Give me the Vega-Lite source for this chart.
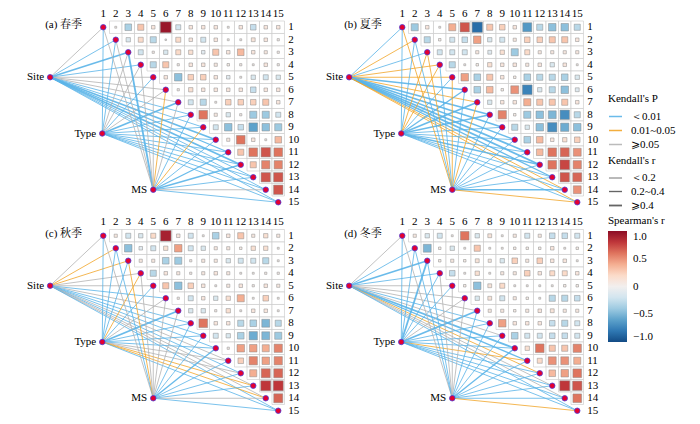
{
"$schema":"https://vega.github.io/schema/vega-lite/v6.json",
"padding":{"left":22,"top":6,"right":0,"bottom":0},
"config":{"view":{"stroke":null},"font":"Liberation Serif, Times New Roman, serif",
"legend":{"titleFont":"Liberation Serif, Times New Roman, serif","labelFont":"Liberation Serif, Times New Roman, serif","titleFontSize":11,"labelFontSize":11,"titleFontWeight":"normal","titleColor":"#000","labelColor":"#000"}},
"data":{"values":[
{"s":"a","i":1,"j":2,"r":0.03},{"s":"a","i":1,"j":3,"r":-0.35},{"s":"a","i":1,"j":4,"r":0.3},{"s":"a","i":1,"j":5,"r":0.1},{"s":"a","i":1,"j":6,"r":0.95},{"s":"a","i":1,"j":7,"r":-0.2},{"s":"a","i":1,"j":8,"r":0.1},{"s":"a","i":1,"j":9,"r":0.1},{"s":"a","i":1,"j":10,"r":0.1},{"s":"a","i":1,"j":11,"r":0.03},{"s":"a","i":1,"j":12,"r":0.1},{"s":"a","i":1,"j":13,"r":-0.25},{"s":"a","i":1,"j":14,"r":0.1},{"s":"a","i":1,"j":15,"r":0.1},
{"s":"a","i":2,"j":3,"r":-0.15},{"s":"a","i":2,"j":4,"r":0.2},{"s":"a","i":2,"j":5,"r":-0.3},{"s":"a","i":2,"j":6,"r":0.02},{"s":"a","i":2,"j":7,"r":0.2},{"s":"a","i":2,"j":8,"r":0.1},{"s":"a","i":2,"j":9,"r":-0.2},{"s":"a","i":2,"j":10,"r":0.1},{"s":"a","i":2,"j":11,"r":0.03},{"s":"a","i":2,"j":12,"r":0.03},{"s":"a","i":2,"j":13,"r":0.12},{"s":"a","i":2,"j":14,"r":0.1},{"s":"a","i":2,"j":15,"r":0.04},
{"s":"a","i":3,"j":4,"r":-0.2},{"s":"a","i":3,"j":5,"r":0.04},{"s":"a","i":3,"j":6,"r":-0.15},{"s":"a","i":3,"j":7,"r":0.2},{"s":"a","i":3,"j":8,"r":0.15},{"s":"a","i":3,"j":9,"r":-0.1},{"s":"a","i":3,"j":10,"r":0.3},{"s":"a","i":3,"j":11,"r":0.1},{"s":"a","i":3,"j":12,"r":0.35},{"s":"a","i":3,"j":13,"r":0.1},{"s":"a","i":3,"j":14,"r":0.08},{"s":"a","i":3,"j":15,"r":0.04},
{"s":"a","i":4,"j":5,"r":-0.3},{"s":"a","i":4,"j":6,"r":0.3},{"s":"a","i":4,"j":7,"r":0.04},{"s":"a","i":4,"j":8,"r":0.1},{"s":"a","i":4,"j":9,"r":0.1},{"s":"a","i":4,"j":10,"r":0.08},{"s":"a","i":4,"j":11,"r":0.05},{"s":"a","i":4,"j":12,"r":0.04},{"s":"a","i":4,"j":13,"r":0.03},{"s":"a","i":4,"j":14,"r":0.1},{"s":"a","i":4,"j":15,"r":0.04},
{"s":"a","i":5,"j":6,"r":0.1},{"s":"a","i":5,"j":7,"r":-0.45},{"s":"a","i":5,"j":8,"r":0.25},{"s":"a","i":5,"j":9,"r":0.25},{"s":"a","i":5,"j":10,"r":0.1},{"s":"a","i":5,"j":11,"r":-0.1},{"s":"a","i":5,"j":12,"r":0.03},{"s":"a","i":5,"j":13,"r":-0.15},{"s":"a","i":5,"j":14,"r":-0.2},{"s":"a","i":5,"j":15,"r":-0.15},
{"s":"a","i":6,"j":7,"r":0.04},{"s":"a","i":6,"j":8,"r":0.15},{"s":"a","i":6,"j":9,"r":0.1},{"s":"a","i":6,"j":10,"r":0.1},{"s":"a","i":6,"j":11,"r":0.1},{"s":"a","i":6,"j":12,"r":0.1},{"s":"a","i":6,"j":13,"r":-0.25},{"s":"a","i":6,"j":14,"r":0.1},{"s":"a","i":6,"j":15,"r":0.1},
{"s":"a","i":7,"j":8,"r":-0.2},{"s":"a","i":7,"j":9,"r":-0.3},{"s":"a","i":7,"j":10,"r":0.03},{"s":"a","i":7,"j":11,"r":0.25},{"s":"a","i":7,"j":12,"r":0.25},{"s":"a","i":7,"j":13,"r":0.25},{"s":"a","i":7,"j":14,"r":0.3},{"s":"a","i":7,"j":15,"r":0.1},
{"s":"a","i":8,"j":9,"r":0.6},{"s":"a","i":8,"j":10,"r":0.08},{"s":"a","i":8,"j":11,"r":-0.15},{"s":"a","i":8,"j":12,"r":0.04},{"s":"a","i":8,"j":13,"r":-0.4},{"s":"a","i":8,"j":14,"r":-0.4},{"s":"a","i":8,"j":15,"r":-0.2},
{"s":"a","i":9,"j":10,"r":-0.2},{"s":"a","i":9,"j":11,"r":-0.45},{"s":"a","i":9,"j":12,"r":-0.25},{"s":"a","i":9,"j":13,"r":-0.6},{"s":"a","i":9,"j":14,"r":-0.45},{"s":"a","i":9,"j":15,"r":-0.4},
{"s":"a","i":10,"j":11,"r":0.08},{"s":"a","i":10,"j":12,"r":0.6},{"s":"a","i":10,"j":13,"r":0.1},{"s":"a","i":10,"j":14,"r":0.03},{"s":"a","i":10,"j":15,"r":0.35},
{"s":"a","i":11,"j":12,"r":0.3},{"s":"a","i":11,"j":13,"r":0.6},{"s":"a","i":11,"j":14,"r":0.7},{"s":"a","i":11,"j":15,"r":0.6},
{"s":"a","i":12,"j":13,"r":0.3},{"s":"a","i":12,"j":14,"r":0.55},{"s":"a","i":12,"j":15,"r":0.55},
{"s":"a","i":13,"j":14,"r":0.7},{"s":"a","i":13,"j":15,"r":0.7},{"s":"a","i":14,"j":15,"r":0.7},
{"s":"b","i":1,"j":2,"r":-0.4},{"s":"b","i":1,"j":3,"r":0.1},{"s":"b","i":1,"j":4,"r":0.03},{"s":"b","i":1,"j":5,"r":0.4},{"s":"b","i":1,"j":6,"r":0.7},{"s":"b","i":1,"j":7,"r":-0.85},{"s":"b","i":1,"j":8,"r":0.3},{"s":"b","i":1,"j":9,"r":0.25},{"s":"b","i":1,"j":10,"r":0.1},{"s":"b","i":1,"j":11,"r":-0.65},{"s":"b","i":1,"j":12,"r":-0.3},{"s":"b","i":1,"j":13,"r":-0.45},{"s":"b","i":1,"j":14,"r":-0.45},{"s":"b","i":1,"j":15,"r":-0.3},
{"s":"b","i":2,"j":3,"r":-0.3},{"s":"b","i":2,"j":4,"r":0.05},{"s":"b","i":2,"j":5,"r":-0.2},{"s":"b","i":2,"j":6,"r":-0.25},{"s":"b","i":2,"j":7,"r":0.45},{"s":"b","i":2,"j":8,"r":-0.15},{"s":"b","i":2,"j":9,"r":-0.2},{"s":"b","i":2,"j":10,"r":0.08},{"s":"b","i":2,"j":11,"r":0.25},{"s":"b","i":2,"j":12,"r":0.25},{"s":"b","i":2,"j":13,"r":0.3},{"s":"b","i":2,"j":14,"r":0.3},{"s":"b","i":2,"j":15,"r":0.1},
{"s":"b","i":3,"j":4,"r":-0.2},{"s":"b","i":3,"j":5,"r":-0.2},{"s":"b","i":3,"j":6,"r":-0.2},{"s":"b","i":3,"j":7,"r":0.08},{"s":"b","i":3,"j":8,"r":-0.12},{"s":"b","i":3,"j":9,"r":0.15},{"s":"b","i":3,"j":10,"r":-0.4},{"s":"b","i":3,"j":11,"r":0.2},{"s":"b","i":3,"j":12,"r":0.08},{"s":"b","i":3,"j":13,"r":0.08},{"s":"b","i":3,"j":14,"r":0.08},{"s":"b","i":3,"j":15,"r":0.08},
{"s":"b","i":4,"j":5,"r":-0.3},{"s":"b","i":4,"j":6,"r":0.03},{"s":"b","i":4,"j":7,"r":0.05},{"s":"b","i":4,"j":8,"r":0.15},{"s":"b","i":4,"j":9,"r":0.1},{"s":"b","i":4,"j":10,"r":0.1},{"s":"b","i":4,"j":11,"r":0.08},{"s":"b","i":4,"j":12,"r":0.1},{"s":"b","i":4,"j":13,"r":-0.15},{"s":"b","i":4,"j":14,"r":0.1},{"s":"b","i":4,"j":15,"r":0.03},
{"s":"b","i":5,"j":6,"r":0.45},{"s":"b","i":5,"j":7,"r":-0.35},{"s":"b","i":5,"j":8,"r":0.3},{"s":"b","i":5,"j":9,"r":0.1},{"s":"b","i":5,"j":10,"r":0.05},{"s":"b","i":5,"j":11,"r":-0.35},{"s":"b","i":5,"j":12,"r":-0.3},{"s":"b","i":5,"j":13,"r":-0.3},{"s":"b","i":5,"j":14,"r":-0.35},{"s":"b","i":5,"j":15,"r":-0.15},
{"s":"b","i":6,"j":7,"r":-0.35},{"s":"b","i":6,"j":8,"r":0.35},{"s":"b","i":6,"j":9,"r":0.05},{"s":"b","i":6,"j":10,"r":0.5},{"s":"b","i":6,"j":11,"r":-0.75},{"s":"b","i":6,"j":12,"r":-0.15},{"s":"b","i":6,"j":13,"r":-0.3},{"s":"b","i":6,"j":14,"r":-0.45},{"s":"b","i":6,"j":15,"r":-0.12},
{"s":"b","i":7,"j":8,"r":-0.15},{"s":"b","i":7,"j":9,"r":0.1},{"s":"b","i":7,"j":10,"r":0.1},{"s":"b","i":7,"j":11,"r":0.4},{"s":"b","i":7,"j":12,"r":0.3},{"s":"b","i":7,"j":13,"r":0.3},{"s":"b","i":7,"j":14,"r":0.3},{"s":"b","i":7,"j":15,"r":0.1},
{"s":"b","i":8,"j":9,"r":0.55},{"s":"b","i":8,"j":10,"r":0.05},{"s":"b","i":8,"j":11,"r":-0.4},{"s":"b","i":8,"j":12,"r":-0.45},{"s":"b","i":8,"j":13,"r":-0.5},{"s":"b","i":8,"j":14,"r":-0.7},{"s":"b","i":8,"j":15,"r":-0.3},
{"s":"b","i":9,"j":10,"r":-0.3},{"s":"b","i":9,"j":11,"r":-0.15},{"s":"b","i":9,"j":12,"r":-0.45},{"s":"b","i":9,"j":13,"r":-0.7},{"s":"b","i":9,"j":14,"r":-0.55},{"s":"b","i":9,"j":15,"r":-0.45},
{"s":"b","i":10,"j":11,"r":-0.35},{"s":"b","i":10,"j":12,"r":0.35},{"s":"b","i":10,"j":13,"r":0.1},{"s":"b","i":10,"j":14,"r":0.15},{"s":"b","i":10,"j":15,"r":0.25},
{"s":"b","i":11,"j":12,"r":0.35},{"s":"b","i":11,"j":13,"r":0.6},{"s":"b","i":11,"j":14,"r":0.65},{"s":"b","i":11,"j":15,"r":0.5},
{"s":"b","i":12,"j":13,"r":0.6},{"s":"b","i":12,"j":14,"r":0.75},{"s":"b","i":12,"j":15,"r":0.55},
{"s":"b","i":13,"j":14,"r":0.7},{"s":"b","i":13,"j":15,"r":0.65},{"s":"b","i":14,"j":15,"r":0.5},
{"s":"c","i":1,"j":2,"r":0.08},{"s":"c","i":1,"j":3,"r":-0.2},{"s":"c","i":1,"j":4,"r":-0.15},{"s":"c","i":1,"j":5,"r":0.2},{"s":"c","i":1,"j":6,"r":0.9},{"s":"c","i":1,"j":7,"r":0.1},{"s":"c","i":1,"j":8,"r":-0.2},{"s":"c","i":1,"j":9,"r":0.03},{"s":"c","i":1,"j":10,"r":-0.35},{"s":"c","i":1,"j":11,"r":0.1},{"s":"c","i":1,"j":12,"r":0.3},{"s":"c","i":1,"j":13,"r":0.08},{"s":"c","i":1,"j":14,"r":0.15},{"s":"c","i":1,"j":15,"r":0.08},
{"s":"c","i":2,"j":3,"r":-0.45},{"s":"c","i":2,"j":4,"r":-0.1},{"s":"c","i":2,"j":5,"r":-0.2},{"s":"c","i":2,"j":6,"r":0.15},{"s":"c","i":2,"j":7,"r":0.45},{"s":"c","i":2,"j":8,"r":-0.2},{"s":"c","i":2,"j":9,"r":-0.15},{"s":"c","i":2,"j":10,"r":0.08},{"s":"c","i":2,"j":11,"r":0.08},{"s":"c","i":2,"j":12,"r":0.05},{"s":"c","i":2,"j":13,"r":0.15},{"s":"c","i":2,"j":14,"r":0.15},{"s":"c","i":2,"j":15,"r":0.03},
{"s":"c","i":3,"j":4,"r":0.08},{"s":"c","i":3,"j":5,"r":0.08},{"s":"c","i":3,"j":6,"r":-0.35},{"s":"c","i":3,"j":7,"r":-0.4},{"s":"c","i":3,"j":8,"r":0.04},{"s":"c","i":3,"j":9,"r":0.08},{"s":"c","i":3,"j":10,"r":0.08},{"s":"c","i":3,"j":11,"r":-0.15},{"s":"c","i":3,"j":12,"r":-0.2},{"s":"c","i":3,"j":13,"r":-0.2},{"s":"c","i":3,"j":14,"r":-0.3},{"s":"c","i":3,"j":15,"r":0.03},
{"s":"c","i":4,"j":5,"r":-0.3},{"s":"c","i":4,"j":6,"r":0.1},{"s":"c","i":4,"j":7,"r":0.08},{"s":"c","i":4,"j":8,"r":0.04},{"s":"c","i":4,"j":9,"r":0.08},{"s":"c","i":4,"j":10,"r":0.1},{"s":"c","i":4,"j":11,"r":0.08},{"s":"c","i":4,"j":12,"r":0.03},{"s":"c","i":4,"j":13,"r":0.03},{"s":"c","i":4,"j":14,"r":0.04},{"s":"c","i":4,"j":15,"r":0.04},
{"s":"c","i":5,"j":6,"r":0.3},{"s":"c","i":5,"j":7,"r":-0.45},{"s":"c","i":5,"j":8,"r":0.25},{"s":"c","i":5,"j":9,"r":0.1},{"s":"c","i":5,"j":10,"r":0.03},{"s":"c","i":5,"j":11,"r":0.08},{"s":"c","i":5,"j":12,"r":0.1},{"s":"c","i":5,"j":13,"r":0.04},{"s":"c","i":5,"j":14,"r":0.1},{"s":"c","i":5,"j":15,"r":0.08},
{"s":"c","i":6,"j":7,"r":0.04},{"s":"c","i":6,"j":8,"r":-0.2},{"s":"c","i":6,"j":9,"r":0.1},{"s":"c","i":6,"j":10,"r":-0.15},{"s":"c","i":6,"j":11,"r":0.15},{"s":"c","i":6,"j":12,"r":0.4},{"s":"c","i":6,"j":13,"r":0.03},{"s":"c","i":6,"j":14,"r":0.25},{"s":"c","i":6,"j":15,"r":0.03},
{"s":"c","i":7,"j":8,"r":-0.15},{"s":"c","i":7,"j":9,"r":-0.15},{"s":"c","i":7,"j":10,"r":0.04},{"s":"c","i":7,"j":11,"r":0.15},{"s":"c","i":7,"j":12,"r":0.03},{"s":"c","i":7,"j":13,"r":0.1},{"s":"c","i":7,"j":14,"r":0.1},{"s":"c","i":7,"j":15,"r":0.03},
{"s":"c","i":8,"j":9,"r":0.6},{"s":"c","i":8,"j":10,"r":0.1},{"s":"c","i":8,"j":11,"r":0.1},{"s":"c","i":8,"j":12,"r":-0.3},{"s":"c","i":8,"j":13,"r":-0.35},{"s":"c","i":8,"j":14,"r":-0.5},{"s":"c","i":8,"j":15,"r":-0.3},
{"s":"c","i":9,"j":10,"r":-0.2},{"s":"c","i":9,"j":11,"r":-0.15},{"s":"c","i":9,"j":12,"r":-0.35},{"s":"c","i":9,"j":13,"r":-0.55},{"s":"c","i":9,"j":14,"r":-0.5},{"s":"c","i":9,"j":15,"r":-0.4},
{"s":"c","i":10,"j":11,"r":0.04},{"s":"c","i":10,"j":12,"r":0.45},{"s":"c","i":10,"j":13,"r":0.45},{"s":"c","i":10,"j":14,"r":0.4},{"s":"c","i":10,"j":15,"r":0.55},
{"s":"c","i":11,"j":12,"r":0.25},{"s":"c","i":11,"j":13,"r":0.55},{"s":"c","i":11,"j":14,"r":0.45},{"s":"c","i":11,"j":15,"r":0.55},
{"s":"c","i":12,"j":13,"r":0.4},{"s":"c","i":12,"j":14,"r":0.65},{"s":"c","i":12,"j":15,"r":0.65},
{"s":"c","i":13,"j":14,"r":0.8},{"s":"c","i":13,"j":15,"r":0.8},{"s":"c","i":14,"j":15,"r":0.65},
{"s":"d","i":1,"j":2,"r":0.08},{"s":"d","i":1,"j":3,"r":-0.15},{"s":"d","i":1,"j":4,"r":-0.2},{"s":"d","i":1,"j":5,"r":0.03},{"s":"d","i":1,"j":6,"r":0.6},{"s":"d","i":1,"j":7,"r":-0.15},{"s":"d","i":1,"j":8,"r":0.12},{"s":"d","i":1,"j":9,"r":0.03},{"s":"d","i":1,"j":10,"r":0.08},{"s":"d","i":1,"j":11,"r":-0.2},{"s":"d","i":1,"j":12,"r":0.08},{"s":"d","i":1,"j":13,"r":-0.25},{"s":"d","i":1,"j":14,"r":-0.25},{"s":"d","i":1,"j":15,"r":-0.2},
{"s":"d","i":2,"j":3,"r":-0.5},{"s":"d","i":2,"j":4,"r":0.05},{"s":"d","i":2,"j":5,"r":-0.15},{"s":"d","i":2,"j":6,"r":0.03},{"s":"d","i":2,"j":7,"r":0.3},{"s":"d","i":2,"j":8,"r":0.03},{"s":"d","i":2,"j":9,"r":0.03},{"s":"d","i":2,"j":10,"r":0.05},{"s":"d","i":2,"j":11,"r":0.05},{"s":"d","i":2,"j":12,"r":0.05},{"s":"d","i":2,"j":13,"r":0.1},{"s":"d","i":2,"j":14,"r":0.03},{"s":"d","i":2,"j":15,"r":0.05},
{"s":"d","i":3,"j":4,"r":0.05},{"s":"d","i":3,"j":5,"r":0.08},{"s":"d","i":3,"j":6,"r":0.05},{"s":"d","i":3,"j":7,"r":0.12},{"s":"d","i":3,"j":8,"r":0.08},{"s":"d","i":3,"j":9,"r":-0.15},{"s":"d","i":3,"j":10,"r":0.25},{"s":"d","i":3,"j":11,"r":0.08},{"s":"d","i":3,"j":12,"r":0.25},{"s":"d","i":3,"j":13,"r":0.1},{"s":"d","i":3,"j":14,"r":0.1},{"s":"d","i":3,"j":15,"r":0.03},
{"s":"d","i":4,"j":5,"r":-0.25},{"s":"d","i":4,"j":6,"r":0.03},{"s":"d","i":4,"j":7,"r":0.15},{"s":"d","i":4,"j":8,"r":0.03},{"s":"d","i":4,"j":9,"r":0.08},{"s":"d","i":4,"j":10,"r":0.08},{"s":"d","i":4,"j":11,"r":0.25},{"s":"d","i":4,"j":12,"r":0.1},{"s":"d","i":4,"j":13,"r":0.2},{"s":"d","i":4,"j":14,"r":0.2},{"s":"d","i":4,"j":15,"r":0.1},
{"s":"d","i":5,"j":6,"r":0.05},{"s":"d","i":5,"j":7,"r":-0.45},{"s":"d","i":5,"j":8,"r":0.12},{"s":"d","i":5,"j":9,"r":0.2},{"s":"d","i":5,"j":10,"r":0.03},{"s":"d","i":5,"j":11,"r":0.03},{"s":"d","i":5,"j":12,"r":0.03},{"s":"d","i":5,"j":13,"r":0.03},{"s":"d","i":5,"j":14,"r":0.05},{"s":"d","i":5,"j":15,"r":0.05},
{"s":"d","i":6,"j":7,"r":-0.15},{"s":"d","i":6,"j":8,"r":0.12},{"s":"d","i":6,"j":9,"r":-0.2},{"s":"d","i":6,"j":10,"r":0.08},{"s":"d","i":6,"j":11,"r":0.05},{"s":"d","i":6,"j":12,"r":0.03},{"s":"d","i":6,"j":13,"r":-0.3},{"s":"d","i":6,"j":14,"r":-0.3},{"s":"d","i":6,"j":15,"r":-0.25},
{"s":"d","i":7,"j":8,"r":0.08},{"s":"d","i":7,"j":9,"r":0.08},{"s":"d","i":7,"j":10,"r":0.05},{"s":"d","i":7,"j":11,"r":0.08},{"s":"d","i":7,"j":12,"r":0.1},{"s":"d","i":7,"j":13,"r":0.12},{"s":"d","i":7,"j":14,"r":0.08},{"s":"d","i":7,"j":15,"r":0.08},
{"s":"d","i":8,"j":9,"r":0.45},{"s":"d","i":8,"j":10,"r":0.1},{"s":"d","i":8,"j":11,"r":0.1},{"s":"d","i":8,"j":12,"r":0.1},{"s":"d","i":8,"j":13,"r":-0.25},{"s":"d","i":8,"j":14,"r":-0.3},{"s":"d","i":8,"j":15,"r":-0.2},
{"s":"d","i":9,"j":10,"r":-0.35},{"s":"d","i":9,"j":11,"r":-0.2},{"s":"d","i":9,"j":12,"r":-0.2},{"s":"d","i":9,"j":13,"r":-0.25},{"s":"d","i":9,"j":14,"r":-0.25},{"s":"d","i":9,"j":15,"r":-0.2},
{"s":"d","i":10,"j":11,"r":0.15},{"s":"d","i":10,"j":12,"r":0.6},{"s":"d","i":10,"j":13,"r":0.3},{"s":"d","i":10,"j":14,"r":0.3},{"s":"d","i":10,"j":15,"r":0.55},
{"s":"d","i":11,"j":12,"r":0.2},{"s":"d","i":11,"j":13,"r":0.5},{"s":"d","i":11,"j":14,"r":0.5},{"s":"d","i":11,"j":15,"r":0.4},
{"s":"d","i":12,"j":13,"r":0.35},{"s":"d","i":12,"j":14,"r":0.45},{"s":"d","i":12,"j":15,"r":0.6},
{"s":"d","i":13,"j":14,"r":0.8},{"s":"d","i":13,"j":15,"r":0.7},{"s":"d","i":14,"j":15,"r":0.6},
{"s":"a","e":"Site","v":1,"p":3,"k":1},{"s":"a","e":"Site","v":2,"p":1,"k":1},{"s":"a","e":"Site","v":3,"p":1,"k":3},{"s":"a","e":"Site","v":4,"p":1,"k":1},{"s":"a","e":"Site","v":5,"p":3,"k":1},{"s":"a","e":"Site","v":6,"p":3,"k":1},{"s":"a","e":"Site","v":7,"p":3,"k":1},{"s":"a","e":"Site","v":8,"p":1,"k":1},{"s":"a","e":"Site","v":9,"p":1,"k":1},{"s":"a","e":"Site","v":10,"p":1,"k":3},{"s":"a","e":"Site","v":11,"p":1,"k":2},{"s":"a","e":"Site","v":12,"p":1,"k":3},{"s":"a","e":"Site","v":13,"p":1,"k":1},{"s":"a","e":"Site","v":14,"p":1,"k":1},{"s":"a","e":"Site","v":15,"p":1,"k":1},
{"s":"a","e":"Type","v":1,"p":1,"k":1},{"s":"a","e":"Type","v":2,"p":1,"k":1},{"s":"a","e":"Type","v":3,"p":3,"k":1},{"s":"a","e":"Type","v":4,"p":3,"k":1},{"s":"a","e":"Type","v":5,"p":1,"k":1},{"s":"a","e":"Type","v":6,"p":3,"k":1},{"s":"a","e":"Type","v":7,"p":1,"k":3},{"s":"a","e":"Type","v":8,"p":1,"k":1},{"s":"a","e":"Type","v":9,"p":1,"k":1},{"s":"a","e":"Type","v":10,"p":1,"k":1},{"s":"a","e":"Type","v":11,"p":1,"k":1},{"s":"a","e":"Type","v":12,"p":1,"k":1},{"s":"a","e":"Type","v":13,"p":1,"k":1},{"s":"a","e":"Type","v":14,"p":1,"k":1},{"s":"a","e":"Type","v":15,"p":1,"k":1},
{"s":"a","e":"MS","v":1,"p":3,"k":1},{"s":"a","e":"MS","v":2,"p":3,"k":1},{"s":"a","e":"MS","v":3,"p":1,"k":3},{"s":"a","e":"MS","v":4,"p":3,"k":1},{"s":"a","e":"MS","v":5,"p":3,"k":1},{"s":"a","e":"MS","v":6,"p":2,"k":1},{"s":"a","e":"MS","v":7,"p":3,"k":1},{"s":"a","e":"MS","v":8,"p":1,"k":1},{"s":"a","e":"MS","v":9,"p":2,"k":1},{"s":"a","e":"MS","v":10,"p":1,"k":1},{"s":"a","e":"MS","v":11,"p":1,"k":2},{"s":"a","e":"MS","v":12,"p":1,"k":2},{"s":"a","e":"MS","v":13,"p":1,"k":1},{"s":"a","e":"MS","v":14,"p":3,"k":1},{"s":"a","e":"MS","v":15,"p":1,"k":1},
{"s":"b","e":"Site","v":1,"p":1,"k":1},{"s":"b","e":"Site","v":2,"p":2,"k":1},{"s":"b","e":"Site","v":3,"p":1,"k":1},{"s":"b","e":"Site","v":4,"p":2,"k":1},{"s":"b","e":"Site","v":5,"p":2,"k":1},{"s":"b","e":"Site","v":6,"p":1,"k":2},{"s":"b","e":"Site","v":7,"p":2,"k":1},{"s":"b","e":"Site","v":8,"p":1,"k":3},{"s":"b","e":"Site","v":9,"p":1,"k":3},{"s":"b","e":"Site","v":10,"p":1,"k":2},{"s":"b","e":"Site","v":11,"p":1,"k":3},{"s":"b","e":"Site","v":12,"p":1,"k":3},{"s":"b","e":"Site","v":13,"p":1,"k":2},{"s":"b","e":"Site","v":14,"p":2,"k":1},{"s":"b","e":"Site","v":15,"p":2,"k":1},
{"s":"b","e":"Type","v":1,"p":1,"k":1},{"s":"b","e":"Type","v":2,"p":1,"k":1},{"s":"b","e":"Type","v":3,"p":2,"k":1},{"s":"b","e":"Type","v":4,"p":2,"k":1},{"s":"b","e":"Type","v":5,"p":1,"k":1},{"s":"b","e":"Type","v":6,"p":1,"k":2},{"s":"b","e":"Type","v":7,"p":1,"k":3},{"s":"b","e":"Type","v":8,"p":1,"k":2},{"s":"b","e":"Type","v":9,"p":1,"k":1},{"s":"b","e":"Type","v":10,"p":1,"k":1},{"s":"b","e":"Type","v":11,"p":1,"k":1},{"s":"b","e":"Type","v":12,"p":1,"k":2},{"s":"b","e":"Type","v":13,"p":1,"k":1},{"s":"b","e":"Type","v":14,"p":1,"k":1},{"s":"b","e":"Type","v":15,"p":1,"k":1},
{"s":"b","e":"MS","v":1,"p":2,"k":1},{"s":"b","e":"MS","v":2,"p":1,"k":1},{"s":"b","e":"MS","v":3,"p":2,"k":1},{"s":"b","e":"MS","v":4,"p":1,"k":1},{"s":"b","e":"MS","v":5,"p":2,"k":1},{"s":"b","e":"MS","v":6,"p":1,"k":1},{"s":"b","e":"MS","v":7,"p":2,"k":1},{"s":"b","e":"MS","v":8,"p":1,"k":1},{"s":"b","e":"MS","v":9,"p":1,"k":1},{"s":"b","e":"MS","v":10,"p":1,"k":1},{"s":"b","e":"MS","v":11,"p":1,"k":1},{"s":"b","e":"MS","v":12,"p":1,"k":1},{"s":"b","e":"MS","v":13,"p":1,"k":1},{"s":"b","e":"MS","v":14,"p":1,"k":2},{"s":"b","e":"MS","v":15,"p":2,"k":1},
{"s":"c","e":"Site","v":1,"p":3,"k":1},{"s":"c","e":"Site","v":2,"p":2,"k":1},{"s":"c","e":"Site","v":3,"p":2,"k":1},{"s":"c","e":"Site","v":4,"p":3,"k":1},{"s":"c","e":"Site","v":5,"p":3,"k":1},{"s":"c","e":"Site","v":6,"p":1,"k":1},{"s":"c","e":"Site","v":7,"p":3,"k":1},{"s":"c","e":"Site","v":8,"p":1,"k":1},{"s":"c","e":"Site","v":9,"p":1,"k":1},{"s":"c","e":"Site","v":10,"p":1,"k":1},{"s":"c","e":"Site","v":11,"p":3,"k":1},{"s":"c","e":"Site","v":12,"p":1,"k":1},{"s":"c","e":"Site","v":13,"p":3,"k":1},{"s":"c","e":"Site","v":14,"p":3,"k":1},{"s":"c","e":"Site","v":15,"p":1,"k":1},
{"s":"c","e":"Type","v":1,"p":1,"k":1},{"s":"c","e":"Type","v":2,"p":1,"k":1},{"s":"c","e":"Type","v":3,"p":1,"k":1},{"s":"c","e":"Type","v":4,"p":2,"k":1},{"s":"c","e":"Type","v":5,"p":1,"k":1},{"s":"c","e":"Type","v":6,"p":3,"k":1},{"s":"c","e":"Type","v":7,"p":1,"k":3},{"s":"c","e":"Type","v":8,"p":1,"k":1},{"s":"c","e":"Type","v":9,"p":1,"k":1},{"s":"c","e":"Type","v":10,"p":1,"k":1},{"s":"c","e":"Type","v":11,"p":3,"k":1},{"s":"c","e":"Type","v":12,"p":3,"k":1},{"s":"c","e":"Type","v":13,"p":2,"k":1},{"s":"c","e":"Type","v":14,"p":2,"k":1},{"s":"c","e":"Type","v":15,"p":1,"k":1},
{"s":"c","e":"MS","v":1,"p":3,"k":1},{"s":"c","e":"MS","v":2,"p":1,"k":1},{"s":"c","e":"MS","v":3,"p":2,"k":1},{"s":"c","e":"MS","v":4,"p":3,"k":1},{"s":"c","e":"MS","v":5,"p":3,"k":1},{"s":"c","e":"MS","v":6,"p":3,"k":1},{"s":"c","e":"MS","v":7,"p":3,"k":1},{"s":"c","e":"MS","v":8,"p":1,"k":1},{"s":"c","e":"MS","v":9,"p":1,"k":1},{"s":"c","e":"MS","v":10,"p":1,"k":2},{"s":"c","e":"MS","v":11,"p":1,"k":1},{"s":"c","e":"MS","v":12,"p":1,"k":1},{"s":"c","e":"MS","v":13,"p":1,"k":1},{"s":"c","e":"MS","v":14,"p":3,"k":1},{"s":"c","e":"MS","v":15,"p":1,"k":1},
{"s":"d","e":"Site","v":1,"p":3,"k":1},{"s":"d","e":"Site","v":2,"p":1,"k":1},{"s":"d","e":"Site","v":3,"p":1,"k":3},{"s":"d","e":"Site","v":4,"p":1,"k":1},{"s":"d","e":"Site","v":5,"p":3,"k":1},{"s":"d","e":"Site","v":6,"p":3,"k":1},{"s":"d","e":"Site","v":7,"p":3,"k":1},{"s":"d","e":"Site","v":8,"p":1,"k":1},{"s":"d","e":"Site","v":9,"p":3,"k":1},{"s":"d","e":"Site","v":10,"p":1,"k":3},{"s":"d","e":"Site","v":11,"p":1,"k":2},{"s":"d","e":"Site","v":12,"p":2,"k":1},{"s":"d","e":"Site","v":13,"p":3,"k":1},{"s":"d","e":"Site","v":14,"p":3,"k":1},{"s":"d","e":"Site","v":15,"p":1,"k":1},
{"s":"d","e":"Type","v":1,"p":1,"k":1},{"s":"d","e":"Type","v":2,"p":1,"k":1},{"s":"d","e":"Type","v":3,"p":1,"k":3},{"s":"d","e":"Type","v":4,"p":1,"k":1},{"s":"d","e":"Type","v":5,"p":1,"k":1},{"s":"d","e":"Type","v":6,"p":3,"k":1},{"s":"d","e":"Type","v":7,"p":1,"k":3},{"s":"d","e":"Type","v":8,"p":1,"k":1},{"s":"d","e":"Type","v":9,"p":1,"k":1},{"s":"d","e":"Type","v":10,"p":1,"k":1},{"s":"d","e":"Type","v":11,"p":2,"k":1},{"s":"d","e":"Type","v":12,"p":1,"k":1},{"s":"d","e":"Type","v":13,"p":1,"k":1},{"s":"d","e":"Type","v":14,"p":1,"k":1},{"s":"d","e":"Type","v":15,"p":1,"k":1},
{"s":"d","e":"MS","v":1,"p":3,"k":1},{"s":"d","e":"MS","v":2,"p":1,"k":1},{"s":"d","e":"MS","v":3,"p":1,"k":1},{"s":"d","e":"MS","v":4,"p":3,"k":1},{"s":"d","e":"MS","v":5,"p":3,"k":1},{"s":"d","e":"MS","v":6,"p":3,"k":1},{"s":"d","e":"MS","v":7,"p":1,"k":1},{"s":"d","e":"MS","v":8,"p":1,"k":1},{"s":"d","e":"MS","v":9,"p":1,"k":1},{"s":"d","e":"MS","v":10,"p":1,"k":2},{"s":"d","e":"MS","v":11,"p":1,"k":1},{"s":"d","e":"MS","v":12,"p":1,"k":1},{"s":"d","e":"MS","v":13,"p":1,"k":1},{"s":"d","e":"MS","v":14,"p":1,"k":1},{"s":"d","e":"MS","v":15,"p":2,"k":1}
]},
"resolve":{"scale":{"stroke":"shared","strokeWidth":"shared","fill":"shared","size":"shared"}},
"spacing":5.5,
"vconcat":[
{"resolve":{"scale":{"stroke":"shared","strokeWidth":"shared","fill":"shared","size":"shared"}},"spacing":21,
"hconcat":[
{"width":275,"height":202.5,"transform":[{"filter":"datum.s=='a'"},{"calculate":"'(a) 春季'","as":"ttl"},{"calculate":"datum.e=='Site'?-3.25:datum.e=='Type'?0.92:5","as":"nx"},{"calculate":"datum.e=='Site'?5:datum.e=='Type'?9.5:14","as":"ny"},{"calculate":"abs(datum.r)","as":"ar"},{"calculate":"['＜0.01','0.01~0.05','⩾0.05'][datum.p-1]","as":"pl"},{"calculate":"['＜0.2','0.2~0.4','⩾0.4'][datum.k-1]","as":"kl"},{"calculate":"-0.1","as":"ly"},{"calculate":"15.8","as":"lx"},{"calculate":"-3.65","as":"tx"},{"calculate":"0.85","as":"ty"}],"layer":[
{"transform":[{"filter":"isValid(datum.e)"}],"mark":{"type":"rule","opacity":0.9},"encoding":{"x":{"field":"nx","type":"quantitative","scale":{"domain":[-5.5,16.5],"nice":false,"zero":false},"axis":null},"y":{"field":"ny","type":"quantitative","scale":{"domain":[-0.7,15.5],"nice":false,"zero":false,"reverse":true},"axis":null},"x2":{"field":"v"},"y2":{"field":"v"},
 "stroke":{"field":"pl","type":"nominal","scale":{"domain":["＜0.01","0.01~0.05","⩾0.05"],"range":["#5AB4E8","#F2A62A","#B4B4B4"]},"legend":{"title":"Kendall's P","orient":"none","legendX":586,"legendY":87,"symbolType":"stroke","symbolStrokeWidth":1.5,"symbolSize":170,"rowPadding":1,"labelOffset":8}},
 "strokeWidth":{"field":"kl","type":"ordinal","scale":{"domain":["＜0.2","0.2~0.4","⩾0.4"],"range":[0.9,1.8,3]},"legend":{"title":"Kendall's r","orient":"none","legendX":586,"legendY":149,"symbolType":"stroke","symbolStrokeColor":"#555555","symbolSize":170,"rowPadding":1,"labelOffset":8}}}},
{"transform":[{"filter":"isValid(datum.r)"}],"mark":{"type":"square","size":156,"fill":"white","stroke":"#c8c8c8","strokeWidth":0.6,"opacity":1},"encoding":{"x":{"field":"j","type":"quantitative","axis":null},"y":{"field":"i","type":"quantitative","axis":null}}},
{"transform":[{"filter":"isValid(datum.r)"}],"mark":{"type":"square","stroke":"#8a8a8a","strokeWidth":0.5,"opacity":1},"encoding":{"x":{"field":"j","type":"quantitative","axis":null},"y":{"field":"i","type":"quantitative","axis":null},"size":{"field":"ar","type":"quantitative","scale":{"domain":[0,1],"range":[0,125]},"legend":null},
 "fill":{"field":"r","type":"quantitative","scale":{"domain":[-1,1],"scheme":"redblue","reverse":true},"legend":{"title":"Spearman's r","orient":"none","legendX":586,"legendY":209,"direction":"vertical","gradientLength":111,"gradientThickness":19,"gradientStrokeWidth":0,"values":[-1,-0.5,0,0.5,1],"labelOffset":6,"labelExpr":"datum.value==0?'0':format(datum.value,'.1f')"}}}},
{"transform":[{"filter":"datum.e=='Site'"}],"mark":{"type":"point","shape":"circle","filled":true,"fill":"#E5002F","stroke":"#4B3BD8","strokeWidth":0.8,"size":30,"opacity":1},"encoding":{"x":{"field":"v","type":"quantitative","axis":null},"y":{"field":"v","type":"quantitative","axis":null}}},
{"transform":[{"filter":"isValid(datum.e) && datum.v==1"}],"mark":{"type":"point","shape":"circle","filled":true,"fill":"#E5002F","stroke":"#4B3BD8","strokeWidth":0.8,"size":30,"opacity":1},"encoding":{"x":{"field":"nx","type":"quantitative","axis":null},"y":{"field":"ny","type":"quantitative","axis":null}}},
{"transform":[{"filter":"isValid(datum.e) && datum.v==1"}],"mark":{"type":"text","align":"right","baseline":"middle","dx":-6,"fontSize":11,"font":"Liberation Serif, Times New Roman, serif"},"encoding":{"x":{"field":"nx","type":"quantitative","axis":null},"y":{"field":"ny","type":"quantitative","axis":null},"text":{"field":"e"}}},
{"transform":[{"filter":"datum.e=='Site'"}],"mark":{"type":"text","align":"center","baseline":"middle","fontSize":11,"font":"Liberation Serif, Times New Roman, serif"},"encoding":{"x":{"field":"v","type":"quantitative","axis":null},"y":{"field":"ly","type":"quantitative","axis":null},"text":{"field":"v"}}},
{"transform":[{"filter":"datum.e=='Site'"}],"mark":{"type":"text","align":"left","baseline":"middle","fontSize":11,"font":"Liberation Serif, Times New Roman, serif"},"encoding":{"x":{"field":"lx","type":"quantitative","axis":null},"y":{"field":"v","type":"quantitative","axis":null},"text":{"field":"v"}}},
{"transform":[{"filter":"datum.e=='Site' && datum.v==1"}],"mark":{"type":"text","align":"left","baseline":"middle","fontSize":11,"font":"Liberation Serif, Noto Serif CJK SC, Noto Sans CJK SC, serif"},"encoding":{"x":{"field":"tx","type":"quantitative","axis":null},"y":{"field":"ty","type":"quantitative","axis":null},"text":{"field":"ttl"}}}
]},
{"width":275,"height":202.5,"transform":[{"filter":"datum.s=='b'"},{"calculate":"'(b) 夏季'","as":"ttl"},{"calculate":"datum.e=='Site'?-3.25:datum.e=='Type'?0.92:5","as":"nx"},{"calculate":"datum.e=='Site'?5:datum.e=='Type'?9.5:14","as":"ny"},{"calculate":"abs(datum.r)","as":"ar"},{"calculate":"['＜0.01','0.01~0.05','⩾0.05'][datum.p-1]","as":"pl"},{"calculate":"['＜0.2','0.2~0.4','⩾0.4'][datum.k-1]","as":"kl"},{"calculate":"-0.1","as":"ly"},{"calculate":"15.8","as":"lx"},{"calculate":"-3.65","as":"tx"},{"calculate":"0.85","as":"ty"}],"layer":[
{"transform":[{"filter":"isValid(datum.e)"}],"mark":{"type":"rule","opacity":0.9},"encoding":{"x":{"field":"nx","type":"quantitative","scale":{"domain":[-5.5,16.5],"nice":false,"zero":false},"axis":null},"y":{"field":"ny","type":"quantitative","scale":{"domain":[-0.7,15.5],"nice":false,"zero":false,"reverse":true},"axis":null},"x2":{"field":"v"},"y2":{"field":"v"},
 "stroke":{"field":"pl","type":"nominal"},"strokeWidth":{"field":"kl","type":"ordinal"}}},
{"transform":[{"filter":"isValid(datum.r)"}],"mark":{"type":"square","size":156,"fill":"white","stroke":"#c8c8c8","strokeWidth":0.6,"opacity":1},"encoding":{"x":{"field":"j","type":"quantitative","axis":null},"y":{"field":"i","type":"quantitative","axis":null}}},
{"transform":[{"filter":"isValid(datum.r)"}],"mark":{"type":"square","stroke":"#8a8a8a","strokeWidth":0.5,"opacity":1},"encoding":{"x":{"field":"j","type":"quantitative","axis":null},"y":{"field":"i","type":"quantitative","axis":null},"size":{"field":"ar","type":"quantitative"},"fill":{"field":"r","type":"quantitative"}}},
{"transform":[{"filter":"datum.e=='Site'"}],"mark":{"type":"point","shape":"circle","filled":true,"fill":"#E5002F","stroke":"#4B3BD8","strokeWidth":0.8,"size":30,"opacity":1},"encoding":{"x":{"field":"v","type":"quantitative","axis":null},"y":{"field":"v","type":"quantitative","axis":null}}},
{"transform":[{"filter":"isValid(datum.e) && datum.v==1"}],"mark":{"type":"point","shape":"circle","filled":true,"fill":"#E5002F","stroke":"#4B3BD8","strokeWidth":0.8,"size":30,"opacity":1},"encoding":{"x":{"field":"nx","type":"quantitative","axis":null},"y":{"field":"ny","type":"quantitative","axis":null}}},
{"transform":[{"filter":"isValid(datum.e) && datum.v==1"}],"mark":{"type":"text","align":"right","baseline":"middle","dx":-6,"fontSize":11,"font":"Liberation Serif, Times New Roman, serif"},"encoding":{"x":{"field":"nx","type":"quantitative","axis":null},"y":{"field":"ny","type":"quantitative","axis":null},"text":{"field":"e"}}},
{"transform":[{"filter":"datum.e=='Site'"}],"mark":{"type":"text","align":"center","baseline":"middle","fontSize":11,"font":"Liberation Serif, Times New Roman, serif"},"encoding":{"x":{"field":"v","type":"quantitative","axis":null},"y":{"field":"ly","type":"quantitative","axis":null},"text":{"field":"v"}}},
{"transform":[{"filter":"datum.e=='Site'"}],"mark":{"type":"text","align":"left","baseline":"middle","fontSize":11,"font":"Liberation Serif, Times New Roman, serif"},"encoding":{"x":{"field":"lx","type":"quantitative","axis":null},"y":{"field":"v","type":"quantitative","axis":null},"text":{"field":"v"}}},
{"transform":[{"filter":"datum.e=='Site' && datum.v==1"}],"mark":{"type":"text","align":"left","baseline":"middle","fontSize":11,"font":"Liberation Serif, Noto Serif CJK SC, Noto Sans CJK SC, serif"},"encoding":{"x":{"field":"tx","type":"quantitative","axis":null},"y":{"field":"ty","type":"quantitative","axis":null},"text":{"field":"ttl"}}}
]}
]},
{"resolve":{"scale":{"stroke":"shared","strokeWidth":"shared","fill":"shared","size":"shared"}},"spacing":21,
"hconcat":[
{"width":275,"height":202.5,"transform":[{"filter":"datum.s=='c'"},{"calculate":"'(c) 秋季'","as":"ttl"},{"calculate":"datum.e=='Site'?-3.25:datum.e=='Type'?0.92:5","as":"nx"},{"calculate":"datum.e=='Site'?5:datum.e=='Type'?9.5:14","as":"ny"},{"calculate":"abs(datum.r)","as":"ar"},{"calculate":"['＜0.01','0.01~0.05','⩾0.05'][datum.p-1]","as":"pl"},{"calculate":"['＜0.2','0.2~0.4','⩾0.4'][datum.k-1]","as":"kl"},{"calculate":"-0.1","as":"ly"},{"calculate":"15.8","as":"lx"},{"calculate":"-3.65","as":"tx"},{"calculate":"0.85","as":"ty"}],"layer":[
{"transform":[{"filter":"isValid(datum.e)"}],"mark":{"type":"rule","opacity":0.9},"encoding":{"x":{"field":"nx","type":"quantitative","scale":{"domain":[-5.5,16.5],"nice":false,"zero":false},"axis":null},"y":{"field":"ny","type":"quantitative","scale":{"domain":[-0.7,15.5],"nice":false,"zero":false,"reverse":true},"axis":null},"x2":{"field":"v"},"y2":{"field":"v"},
 "stroke":{"field":"pl","type":"nominal"},"strokeWidth":{"field":"kl","type":"ordinal"}}},
{"transform":[{"filter":"isValid(datum.r)"}],"mark":{"type":"square","size":156,"fill":"white","stroke":"#c8c8c8","strokeWidth":0.6,"opacity":1},"encoding":{"x":{"field":"j","type":"quantitative","axis":null},"y":{"field":"i","type":"quantitative","axis":null}}},
{"transform":[{"filter":"isValid(datum.r)"}],"mark":{"type":"square","stroke":"#8a8a8a","strokeWidth":0.5,"opacity":1},"encoding":{"x":{"field":"j","type":"quantitative","axis":null},"y":{"field":"i","type":"quantitative","axis":null},"size":{"field":"ar","type":"quantitative"},"fill":{"field":"r","type":"quantitative"}}},
{"transform":[{"filter":"datum.e=='Site'"}],"mark":{"type":"point","shape":"circle","filled":true,"fill":"#E5002F","stroke":"#4B3BD8","strokeWidth":0.8,"size":30,"opacity":1},"encoding":{"x":{"field":"v","type":"quantitative","axis":null},"y":{"field":"v","type":"quantitative","axis":null}}},
{"transform":[{"filter":"isValid(datum.e) && datum.v==1"}],"mark":{"type":"point","shape":"circle","filled":true,"fill":"#E5002F","stroke":"#4B3BD8","strokeWidth":0.8,"size":30,"opacity":1},"encoding":{"x":{"field":"nx","type":"quantitative","axis":null},"y":{"field":"ny","type":"quantitative","axis":null}}},
{"transform":[{"filter":"isValid(datum.e) && datum.v==1"}],"mark":{"type":"text","align":"right","baseline":"middle","dx":-6,"fontSize":11,"font":"Liberation Serif, Times New Roman, serif"},"encoding":{"x":{"field":"nx","type":"quantitative","axis":null},"y":{"field":"ny","type":"quantitative","axis":null},"text":{"field":"e"}}},
{"transform":[{"filter":"datum.e=='Site'"}],"mark":{"type":"text","align":"center","baseline":"middle","fontSize":11,"font":"Liberation Serif, Times New Roman, serif"},"encoding":{"x":{"field":"v","type":"quantitative","axis":null},"y":{"field":"ly","type":"quantitative","axis":null},"text":{"field":"v"}}},
{"transform":[{"filter":"datum.e=='Site'"}],"mark":{"type":"text","align":"left","baseline":"middle","fontSize":11,"font":"Liberation Serif, Times New Roman, serif"},"encoding":{"x":{"field":"lx","type":"quantitative","axis":null},"y":{"field":"v","type":"quantitative","axis":null},"text":{"field":"v"}}},
{"transform":[{"filter":"datum.e=='Site' && datum.v==1"}],"mark":{"type":"text","align":"left","baseline":"middle","fontSize":11,"font":"Liberation Serif, Noto Serif CJK SC, Noto Sans CJK SC, serif"},"encoding":{"x":{"field":"tx","type":"quantitative","axis":null},"y":{"field":"ty","type":"quantitative","axis":null},"text":{"field":"ttl"}}}
]},
{"width":275,"height":202.5,"transform":[{"filter":"datum.s=='d'"},{"calculate":"'(d) 冬季'","as":"ttl"},{"calculate":"datum.e=='Site'?-3.25:datum.e=='Type'?0.92:5","as":"nx"},{"calculate":"datum.e=='Site'?5:datum.e=='Type'?9.5:14","as":"ny"},{"calculate":"abs(datum.r)","as":"ar"},{"calculate":"['＜0.01','0.01~0.05','⩾0.05'][datum.p-1]","as":"pl"},{"calculate":"['＜0.2','0.2~0.4','⩾0.4'][datum.k-1]","as":"kl"},{"calculate":"-0.1","as":"ly"},{"calculate":"15.8","as":"lx"},{"calculate":"-3.65","as":"tx"},{"calculate":"0.85","as":"ty"}],"layer":[
{"transform":[{"filter":"isValid(datum.e)"}],"mark":{"type":"rule","opacity":0.9},"encoding":{"x":{"field":"nx","type":"quantitative","scale":{"domain":[-5.5,16.5],"nice":false,"zero":false},"axis":null},"y":{"field":"ny","type":"quantitative","scale":{"domain":[-0.7,15.5],"nice":false,"zero":false,"reverse":true},"axis":null},"x2":{"field":"v"},"y2":{"field":"v"},
 "stroke":{"field":"pl","type":"nominal"},"strokeWidth":{"field":"kl","type":"ordinal"}}},
{"transform":[{"filter":"isValid(datum.r)"}],"mark":{"type":"square","size":156,"fill":"white","stroke":"#c8c8c8","strokeWidth":0.6,"opacity":1},"encoding":{"x":{"field":"j","type":"quantitative","axis":null},"y":{"field":"i","type":"quantitative","axis":null}}},
{"transform":[{"filter":"isValid(datum.r)"}],"mark":{"type":"square","stroke":"#8a8a8a","strokeWidth":0.5,"opacity":1},"encoding":{"x":{"field":"j","type":"quantitative","axis":null},"y":{"field":"i","type":"quantitative","axis":null},"size":{"field":"ar","type":"quantitative"},"fill":{"field":"r","type":"quantitative"}}},
{"transform":[{"filter":"datum.e=='Site'"}],"mark":{"type":"point","shape":"circle","filled":true,"fill":"#E5002F","stroke":"#4B3BD8","strokeWidth":0.8,"size":30,"opacity":1},"encoding":{"x":{"field":"v","type":"quantitative","axis":null},"y":{"field":"v","type":"quantitative","axis":null}}},
{"transform":[{"filter":"isValid(datum.e) && datum.v==1"}],"mark":{"type":"point","shape":"circle","filled":true,"fill":"#E5002F","stroke":"#4B3BD8","strokeWidth":0.8,"size":30,"opacity":1},"encoding":{"x":{"field":"nx","type":"quantitative","axis":null},"y":{"field":"ny","type":"quantitative","axis":null}}},
{"transform":[{"filter":"isValid(datum.e) && datum.v==1"}],"mark":{"type":"text","align":"right","baseline":"middle","dx":-6,"fontSize":11,"font":"Liberation Serif, Times New Roman, serif"},"encoding":{"x":{"field":"nx","type":"quantitative","axis":null},"y":{"field":"ny","type":"quantitative","axis":null},"text":{"field":"e"}}},
{"transform":[{"filter":"datum.e=='Site'"}],"mark":{"type":"text","align":"center","baseline":"middle","fontSize":11,"font":"Liberation Serif, Times New Roman, serif"},"encoding":{"x":{"field":"v","type":"quantitative","axis":null},"y":{"field":"ly","type":"quantitative","axis":null},"text":{"field":"v"}}},
{"transform":[{"filter":"datum.e=='Site'"}],"mark":{"type":"text","align":"left","baseline":"middle","fontSize":11,"font":"Liberation Serif, Times New Roman, serif"},"encoding":{"x":{"field":"lx","type":"quantitative","axis":null},"y":{"field":"v","type":"quantitative","axis":null},"text":{"field":"v"}}},
{"transform":[{"filter":"datum.e=='Site' && datum.v==1"}],"mark":{"type":"text","align":"left","baseline":"middle","fontSize":11,"font":"Liberation Serif, Noto Serif CJK SC, Noto Sans CJK SC, serif"},"encoding":{"x":{"field":"tx","type":"quantitative","axis":null},"y":{"field":"ty","type":"quantitative","axis":null},"text":{"field":"ttl"}}}
]}
]}
]
}
